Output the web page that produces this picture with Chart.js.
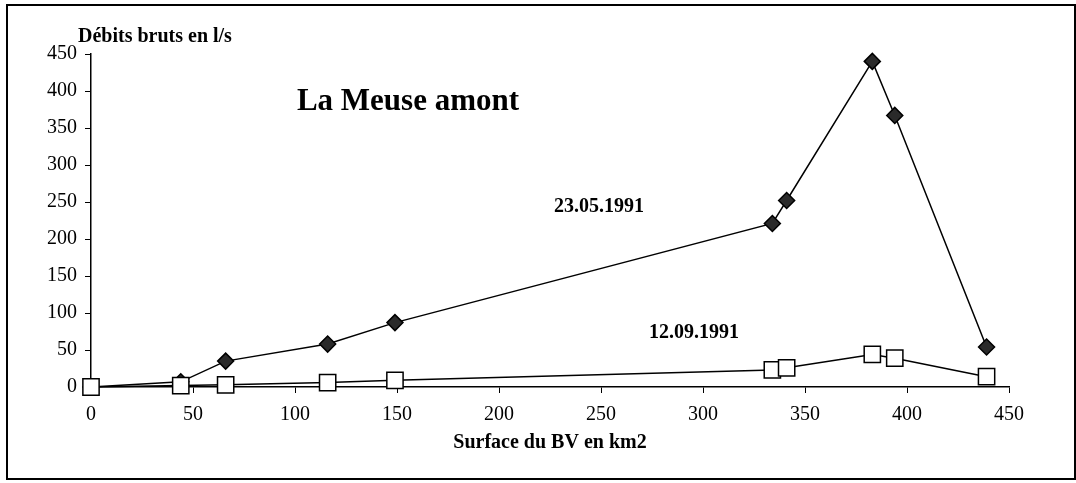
<!DOCTYPE html>
<html>
<head>
<meta charset="utf-8">
<script src="https://cdn.jsdelivr.net/npm/chart.js@4"></script>
<style>
  html, body { margin: 0; padding: 0; background: #fff; }
</style>
</head>
<body>
<canvas id="myChart" width="1076" height="483"></canvas>
<script>
// surface du bassin versant (km2) et débits bruts (l/s)
const surfaces = [0, 44, 66, 116, 149, 334, 341, 383, 394, 439];
const debitsMai = [0, 7, 35, 58, 87, 221, 252, 440, 367, 54];
const debitsSept = [0, 2, 3, 6, 9, 23, 26, 44, 39, 14];

const ctx = document.getElementById('myChart').getContext('2d');

Chart.defaults.font.family = '"Liberation Serif", "Times New Roman", serif';
Chart.defaults.color = '#000';

const toPoints = (xs, ys) => xs.map((x, i) => ({ x: x, y: ys[i] }));

// cadre + textes libres (titre, étiquettes de séries, titre de l'axe Y)
const decor = {
  id: 'decor',
  afterDraw(chart) {
    const c = chart.ctx;
    c.save();
    c.strokeStyle = '#000';
    c.lineWidth = 2;
    c.strokeRect(7, 5, 1068, 474);

    c.fillStyle = '#000';
    c.textBaseline = 'alphabetic';
    c.textAlign = 'center';
    c.font = 'bold 31px "Liberation Serif"';
    c.fillText('La Meuse amont', 408, 110);

    c.font = 'bold 20px "Liberation Serif"';
    c.fillText('23.05.1991', 599, 212);
    c.fillText('12.09.1991', 694, 338);

    c.textAlign = 'left';
    c.fillText('Débits bruts en l/s', 78, 42);
    c.restore();
  }
};

const myChart = new Chart(ctx, {
  type: 'line',
  data: {
    datasets: [
      {
        label: '23.05.1991',
        data: toPoints(surfaces, debitsMai),
        borderColor: '#000',
        borderWidth: 1.5,
        pointStyle: 'rectRot',
        pointRadius: 8,
        pointBackgroundColor: '#2a2a2a',
        pointBorderColor: '#000',
        pointBorderWidth: 1.5,
        tension: 0,
        clip: false,
        order: 2
      },
      {
        label: '12.09.1991',
        data: toPoints(surfaces, debitsSept),
        borderColor: '#000',
        borderWidth: 1.5,
        pointStyle: 'rect',
        pointRadius: 11.5,
        pointBackgroundColor: '#fff',
        pointBorderColor: '#000',
        pointBorderWidth: 1.5,
        tension: 0,
        clip: false,
        order: 1
      }
    ]
  },
  options: {
    responsive: false,
    animation: false,
    layout: { padding: { top: 54, right: 67, left: 0, bottom: 0 } },
    plugins: {
      legend: { display: false },
      tooltip: { enabled: false }
    },
    scales: {
      x: {
        type: 'linear',
        min: 0,
        max: 450,
        afterFit(scale) { scale.height = 96; },
        ticks: { stepSize: 50, padding: 10, font: { size: 20 } },
        grid: { drawOnChartArea: false, tickLength: 6, color: '#000' },
        border: { color: '#000', width: 1.5 },
        title: {
          display: true,
          text: 'Surface du BV en km2',
          font: { size: 20, weight: 'bold' },
          padding: { top: 0, bottom: 28 }
        }
      },
      y: {
        min: 0,
        max: 450,
        afterFit(scale) { scale.width = 91; },
        ticks: { stepSize: 50, padding: 8, font: { size: 20 } },
        grid: { drawOnChartArea: false, tickLength: 6, color: '#000' },
        border: { color: '#000', width: 1.5 }
      }
    }
  },
  plugins: [decor]
});
</script>
</body>
</html>
